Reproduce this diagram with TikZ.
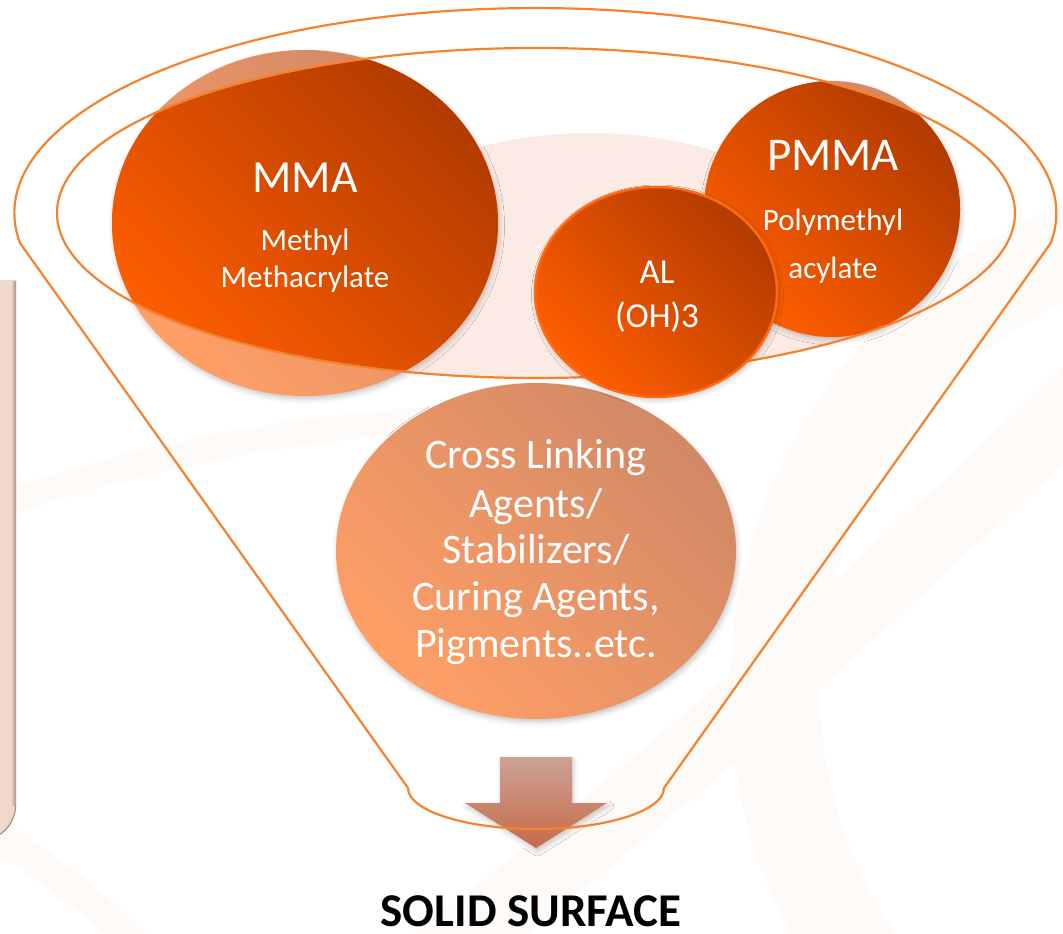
\documentclass[tikz,border=0pt]{standalone}
\usepackage{fontspec}
\setmainfont{Carlito}
\usepackage{xcolor}
\usetikzlibrary{shadows.blur}

\definecolor{funnelOrange}{HTML}{F5822E}
\definecolor{ballDark}{HTML}{B23B00}
\definecolor{ballBright}{HTML}{FF5E00}
\definecolor{ballDarkFaded}{HTML}{D18966}
\definecolor{ballBrightFaded}{HTML}{FF9F66}
\definecolor{alEdge}{HTML}{FF6A10}
\definecolor{ringTint}{HTML}{FEFAF7}
\definecolor{blobPink}{HTML}{FCEBE4}
\definecolor{arrowTop}{HTML}{CCA395}
\definecolor{arrowMid}{HTML}{E2B6A4}
\definecolor{arrowTip}{HTML}{C56A48}
\definecolor{barLight}{HTML}{EFD9CB}
\definecolor{barEdge}{HTML}{A29389}

\begin{document}
\begin{tikzpicture}[x=1pt, y=-1pt]
    \tikzstyle{Funnel Line} = [draw=funnelOrange, line width=2.2pt, line join=round]
    \tikzstyle{Ring} = [draw=ringTint, line width=#1]
    \tikzstyle{Soft Shadow} = [blur shadow={shadow xshift=1.5pt, shadow yshift=-3pt, shadow blur radius=5pt, shadow opacity=22}]
    \tikzstyle{Ball} = [shading=axis, top color=ballDark, bottom color=ballBright, shading angle=-45]
    \tikzstyle{Ball Faded} = [shading=axis, top color=ballDarkFaded, bottom color=ballBrightFaded, shading angle=-45, Soft Shadow]
    \tikzstyle{Arrow Body} = [top color=arrowTop, middle color=arrowMid, bottom color=arrowTip, Soft Shadow]
    \tikzstyle{Ball Text} = [text=white, inner sep=0pt, anchor=base]
    \useasboundingbox (0,0) rectangle (1063,934);

    % faint background rings
    \draw[Ring=90pt] (1250,690) circle[radius=475];
    \draw[Ring=70pt] (1110,370) .. controls (860,610) and (660,790) .. (430,965);
    \draw[Ring=26pt] (-20,512) .. controls (150,452) and (300,428) .. (430,420);
    \draw[Ring=30pt] (-20,825) .. controls (40,860) and (100,905) .. (150,960);

    % bar on the left edge
    \fill[barLight] (-30,280) -- (16,280) -- (16,805) arc[start angle=0, end angle=90, radius=36] -- (-30,841) -- cycle;
    \shade[left color=barLight, right color=barEdge] (11,281) rectangle (16,805);
    \draw[barEdge, line width=1.2pt] (15.6,805) arc[start angle=0, end angle=70, radius=35.6];

    % pale blob inside the funnel mouth
    \begin{scope}
        \clip (536,213) ellipse[x radius=479, y radius=165];
        \fill[blobPink] (590,320) ellipse[x radius=290, y radius=187];
    \end{scope}

    % MMA and PMMA, faded outside the mouth
    \shade[Ball Faded] (305,223) ellipse[x radius=193, y radius=173];
    \shade[Ball Faded] (832,209) circle[radius=128];
    \begin{scope}
        \clip (536,213) ellipse[x radius=479, y radius=165];
        \shade[Ball] (305,223) ellipse[x radius=193, y radius=173];
        \shade[Ball] (832,209) circle[radius=128];
    \end{scope}
    \draw[Funnel Line] (536,213) ellipse[x radius=479, y radius=165];

    % additives
    \shade[Ball Faded] (536,551) ellipse[x radius=200, y radius=168];

    % arrow out of the funnel
    \shade[Arrow Body] (500,757) -- (572,757) -- (572,803) -- (607,803) -- (536,848) -- (465,803) -- (500,803) -- cycle;

    % funnel outline
    \draw[Funnel Line] (20,243) arc[start angle=171.6, end angle=368.4, x radius=521, y radius=205]
        -- (664,788) arc[start angle=0, end angle=180, x radius=128, y radius=41] -- cycle;

    % AL(OH)3 on top
    \shade[Ball, Soft Shadow, draw=alEdge, line width=2.5pt] (656,292) ellipse[x radius=121, y radius=105];

    \node[Ball Text, font=\fontsize{46}{46}\selectfont] (mma) at (305,192) {MMA};
    \node[Ball Text, font=\fontsize{31}{31}\selectfont] (mma1) at (305,250) {Methyl};
    \node[Ball Text, font=\fontsize{31}{31}\selectfont] (mma2) at (305,287) {Methacrylate};
    \node[Ball Text, font=\fontsize{47}{47}\selectfont] (pmma) at (833,170) {PMMA};
    \node[Ball Text, font=\fontsize{31}{31}\selectfont] (pmma1) at (833,230) {Polymethyl};
    \node[Ball Text, font=\fontsize{31}{31}\selectfont] (pmma2) at (833,278) {acylate};
    \node[Ball Text, font=\fontsize{35}{35}\selectfont] (al1) at (657,283) {AL};
    \node[Ball Text, font=\fontsize{35}{35}\selectfont] (al2) at (657,327) {(OH)3};
    \node[Ball Text, font=\fontsize{42}{42}\selectfont] (cross1) at (536,468) {Cross Linking};
    \node[Ball Text, font=\fontsize{42}{42}\selectfont] (cross2) at (536,517) {Agents/};
    \node[Ball Text, font=\fontsize{42}{42}\selectfont] (cross3) at (536,563) {Stabilizers/};
    \node[Ball Text, font=\fontsize{42}{42}\selectfont] (cross4) at (536,610) {Curing Agents,};
    \node[Ball Text, font=\fontsize{42}{42}\selectfont] (cross5) at (536,657) {Pigments..etc.};
    \node[Ball Text, text=black, text depth=0pt, font=\fontsize{47}{47}\selectfont\bfseries] (solid) at (531,926) {SOLID SURFACE};
\end{tikzpicture}
\end{document}
